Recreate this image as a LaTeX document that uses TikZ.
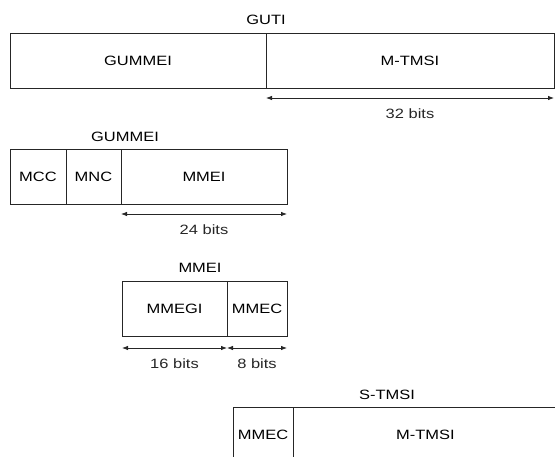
\documentclass[tikz,border=0pt]{standalone}
\usepackage{fontspec}
\setmainfont{Liberation Sans}[FakeStretch=1.22]
\usetikzlibrary{arrows.meta, positioning}

\begin{document}
\begin{tikzpicture}[
    field/.style={rectangle, draw=black!85, line width=0.8pt, outer sep=0pt, minimum height=55pt, inner sep=0pt, font=\fontsize{13.5}{15}\selectfont},
    title/.style={inner sep=0pt, font=\fontsize{13.5}{15}\selectfont},
    bits/.style={{Latex[length=6pt,width=4.5pt]}-{Latex[length=6pt,width=4.5pt]}, line width=0.8pt, black!85},
    bitlabel/.style={below=10pt, inner sep=0pt, font=\fontsize{13.5}{15}\selectfont}
]
    \useasboundingbox (0,0) rectangle (555pt,-457pt);
    % GUTI
    \node[field, minimum width=256pt, anchor=north west] (gummeiF) at (10pt,-33pt) {GUMMEI};
    \node[field, minimum width=288pt, right=0pt of gummeiF] (mtmsiF) {M-TMSI};
    \node[title, above=8pt of gummeiF.north east] (gutiT) {GUTI};
    \coordinate[below=10pt of mtmsiF.south west] (gutiA);
    \coordinate[below=10pt of mtmsiF.south east] (gutiB);
    \draw[bits] (gutiA) -- node[bitlabel] {32 bits} (gutiB);
    % GUMMEI
    \node[field, minimum width=56pt, anchor=north west] (mcc) at (10pt,-149pt) {MCC};
    \node[field, minimum width=55pt, right=0pt of mcc] (mnc) {MNC};
    \node[field, minimum width=166pt, right=0pt of mnc] (mmeiF) {MMEI};
    \node[title, above=7pt of mnc.north east, xshift=4pt] (gummeiT) {GUMMEI};
    \coordinate[below=10pt of mmeiF.south west] (gummeiA);
    \coordinate[below=10pt of mmeiF.south east] (gummeiB);
    \draw[bits] (gummeiA) -- node[bitlabel] {24 bits} (gummeiB);
    % MMEI
    \node[field, minimum width=105pt, anchor=north west] (mmegi) at (122pt,-281pt) {MMEGI};
    \node[field, minimum width=60pt, right=0pt of mmegi] (mmecF) {MMEC};
    \node[title, above=8pt of mmegi.north east, xshift=-27pt] (mmeiT) {MMEI};
    \coordinate[below=12pt of mmegi.south west] (mmeiA);
    \coordinate[below=12pt of mmegi.south east] (mmeiB);
    \coordinate[below=12pt of mmecF.south east] (mmeiC);
    \draw[bits] (mmeiA) -- node[bitlabel] {16 bits} (mmeiB);
    \draw[bits] (mmeiB) -- node[bitlabel] {8 bits} (mmeiC);
    % S-TMSI
    \node[field, minimum width=60pt, anchor=north west] (mmecS) at (233pt,-407pt) {MMEC};
    \node[field, minimum width=265pt, right=0pt of mmecS] (mtmsiS) {M-TMSI};
    \node[title, above=7pt of mmecS.north east, xshift=94pt] (stmsiT) {S-TMSI};
\end{tikzpicture}
\end{document}
